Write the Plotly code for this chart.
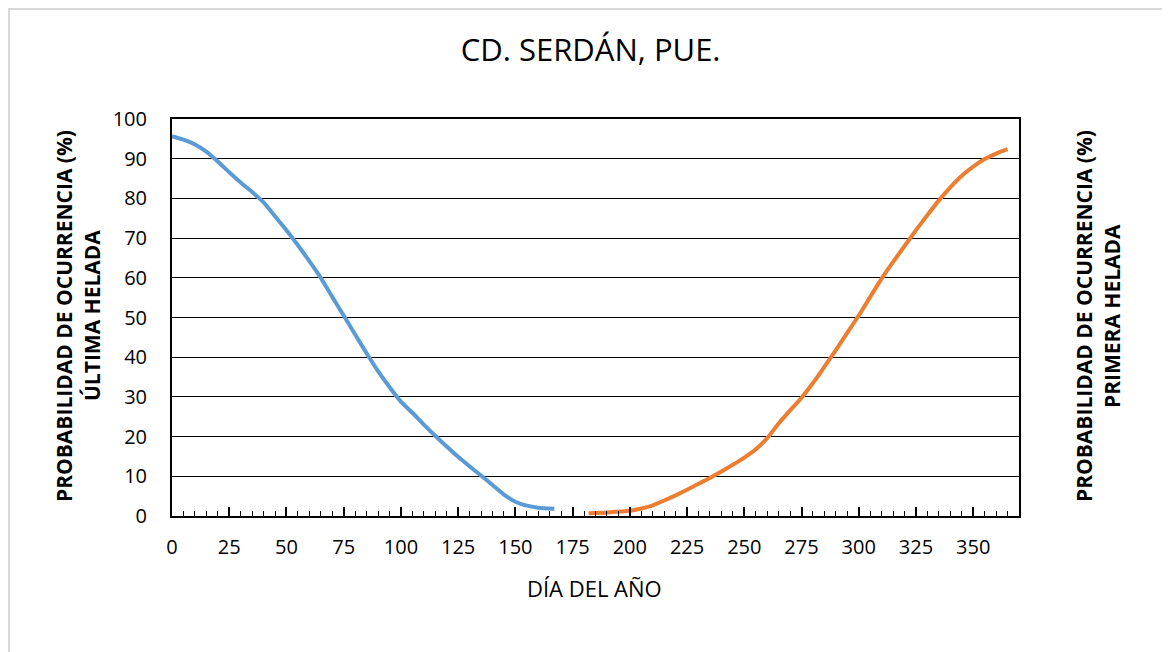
import plotly.graph_objects as go

# Última helada (probabilidad acumulada)
dia_ultima = [0, 5, 10, 15, 20, 25, 30, 35, 40, 45, 50, 55, 60, 65, 70, 75, 80, 85, 90, 95,
              100, 105, 110, 115, 120, 125, 130, 135, 140, 145, 150, 155, 160, 167]
prob_ultima = [95.7, 94.8, 93.6, 91.8, 89.3, 86.6, 84.0, 81.6, 79.0, 75.5, 72.0, 68.2, 64.2,
               60.0, 55.2, 50.5, 45.7, 41.0, 36.5, 32.5, 28.8, 26.0, 23.0, 20.2, 17.5, 14.9,
               12.5, 10.2, 7.8, 5.4, 3.6, 2.6, 2.1, 1.8]

# Primera helada
dia_primera = [182, 190, 200, 205, 210, 215, 220, 225, 230, 235, 240, 245, 250, 255, 260, 265,
               270, 275, 280, 285, 290, 295, 300, 305, 310, 315, 320, 325, 330, 335, 340, 345,
               350, 355, 360, 365]
prob_primera = [0.7, 0.9, 1.3, 1.9, 2.7, 3.9, 5.2, 6.6, 8.1, 9.6, 11.2, 12.9, 14.7, 16.8, 19.6,
                23.3, 26.6, 29.8, 33.5, 37.6, 41.8, 46.2, 50.5, 55.2, 59.8, 64.0, 68.0, 72.0,
                75.8, 79.5, 82.8, 85.7, 88.0, 89.9, 91.3, 92.4]

x_ticks = list(range(0, 375, 25))
y_ticks = list(range(0, 110, 10))

FONT = "Open Sans"
AZUL = "#5B9BD5"
NARANJA = "#ED7D31"

# posiciones en pixeles de la pagina (el body tiene 8px de margen)
PL, PR, PT, PB = 172, 1019, 119, 516
W = PR - PL
H = PB - PT


def px(x):
    return (x - PL) / W


def py(y):
    return (PB - y) / H


fig = go.Figure()

fig.add_trace(go.Scatter(
    x=dia_ultima, y=prob_ultima, mode="lines",
    line=dict(color=AZUL, width=4, shape="spline", smoothing=0.6),
    name="Última helada", showlegend=False
))
fig.add_trace(go.Scatter(
    x=dia_primera, y=prob_primera, mode="lines",
    line=dict(color=NARANJA, width=4, shape="spline", smoothing=0.6),
    name="Primera helada", showlegend=False
))

fig.update_layout(
    width=1170, height=652,
    plot_bgcolor="white", paper_bgcolor="white",
    margin=dict(l=PL - 8, r=1170 + 8 - PR, t=PT - 8, b=652 + 8 - PB),
    font=dict(family=FONT, color="black"),
    title=dict(text="CD. SERDÁN, PUE.", x=0.498, xanchor="center", y=1 - 42 / 652, yanchor="middle",
               font=dict(size=31, family=FONT, color="black")),
    xaxis=dict(
        range=[0, 370], tickvals=x_ticks, ticks="inside", ticklen=9, tickwidth=1.5,
        tickcolor="black", showgrid=False, zeroline=False,
        showline=True, linecolor="black", linewidth=2, mirror=True,
        minor=dict(dtick=5, tick0=0, ticks="inside", ticklen=5, tickwidth=1.3, tickcolor="black"),
        tickfont=dict(size=20, family=FONT), ticklabelstandoff=12,
    ),
    yaxis=dict(
        range=[0, 100], tickvals=y_ticks, ticks="", showgrid=True, gridcolor="black",
        gridwidth=1.3, zeroline=False, showline=True, linecolor="black", linewidth=2,
        mirror=True, tickfont=dict(size=20, family=FONT), ticklabelstandoff=19,
    ),
)

fig.add_annotation(text="DÍA DEL AÑO", xref="paper", yref="paper", x=px(594), y=py(588),
                   showarrow=False, font=dict(size=22, family=FONT), yanchor="middle")

# Títulos verticales izquierda y derecha
titulos = [
    ("<b>PROBABILIDAD DE OCURRENCIA (%)</b>", 64),
    ("<b>ÚLTIMA HELADA</b>", 92),
    ("<b>PROBABILIDAD DE OCURRENCIA (%)</b>", 1084),
    ("<b>PRIMERA HELADA</b>", 1112),
]
for texto, xpix in titulos:
    fig.add_annotation(text=texto, xref="paper", yref="paper", x=px(xpix), y=py(316),
                       textangle=-90, showarrow=False, font=dict(size=21, family=FONT),
                       xanchor="center", yanchor="middle")

# Borde gris del área del gráfico
fig.add_shape(type="rect", xref="paper", yref="paper",
              x0=px(9), x1=1.5, y0=-1, y1=py(9),
              line=dict(color="#D9D9D9", width=2), layer="below")

fig.write_html("out.html")
